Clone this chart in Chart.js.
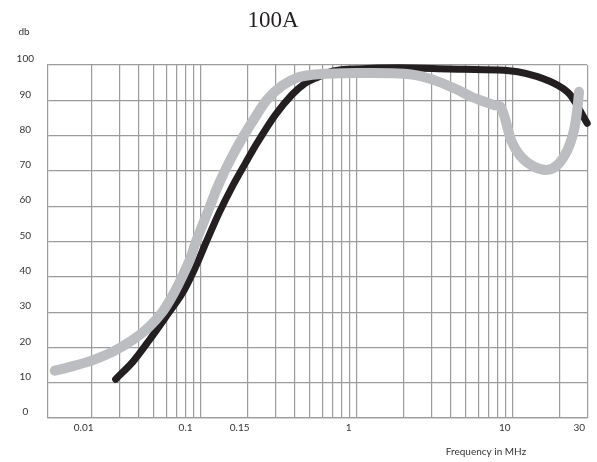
<!DOCTYPE html>
<html lang="en">
<head>
    <meta charset="UTF-8">
    <title>100A</title>
    <script src="https://cdn.jsdelivr.net/npm/chart.js"></script>
    <style>
        html, body { margin: 0; padding: 0; background: #ffffff; }
        #wrap { width: 597px; height: 462px; position: relative; }
    </style>
</head>
<body>
    <div id="wrap">
        <canvas id="chart" width="597" height="462"></canvas>
    </div>

    <script>
        // grey curve (frequency in MHz, level in db)
        var greyFreq = [0.0116, 0.0152, 0.0204, 0.0274, 0.0367, 0.0469, 0.0567, 0.0666, 0.076, 0.0855,
                        0.0933, 0.1034, 0.1146, 0.127, 0.1428, 0.163, 0.1887, 0.2218, 0.2644, 0.3295,
                        0.4228, 0.567, 1.0, 1.85, 2.48, 3.33, 4.46, 5.43, 6.6, 7.64,
                        8.3, 8.9, 9.75, 11.3, 13.7, 16.7, 19.35, 22.4, 24.7, 25.9, 26.6];
        var greyDb   = [13.4, 14.7, 16.4, 18.8, 22.1, 25.9, 30.0, 35.0, 40.0, 45.0,
                        50.0, 55.0, 60.0, 65.0, 70.0, 75.0, 80.0, 85.0, 90.0, 94.0,
                        96.5, 97.4, 97.7, 97.6, 97.0, 95.3, 92.9, 91.0, 89.6, 88.6,
                        88.3, 85.0, 78.8, 74.0, 71.2, 70.3, 71.7, 75.9, 81.6, 87.3, 92.4];

        // black curve
        var blackFreq = [0.0285, 0.0367, 0.0469, 0.0599, 0.0764, 0.0929, 0.1076, 0.1308, 0.159, 0.1935,
                         0.229, 0.300, 0.383, 0.466, 0.54, 0.706, 1.0, 1.85, 3.85, 8.03,
                         10.76, 14.4, 19.35, 23.4, 30];
        var blackDb   = [11.0, 15.9, 22.1, 28.7, 35.4, 42.9, 49.5, 58.0, 65.5, 72.2,
                         77.8, 85.8, 91.5, 94.8, 96.2, 98.3, 98.9, 99.2, 98.9, 98.6,
                         98.1, 96.7, 94.3, 91.5, 83.5];

        // vertical grid lines and the labels printed under the axis
        var gridFreq = [0.02, 0.03, 0.04, 0.05, 0.06, 0.07, 0.08, 0.09,
                        0.1, 0.2, 0.3, 0.4, 0.5, 0.6, 0.7, 0.8, 0.9,
                        1, 2, 3, 4, 5, 6, 7, 8, 9,
                        10, 20, 30];
        var tickFreq = [0.02, 0.09, 0.2, 1, 10, 30];
        var tickLabels = ['0.01', '0.1', '0.15', '1', '10', '30'];

        var gridColor = '#9c9c9c';
        var textColor = '#333333';

        // title, unit and axis caption
        var textPlugin = {
            id: 'extraText',
            afterDraw: function(chart) {
                var ctx = chart.ctx;
                ctx.save();
                ctx.fillStyle = '#231f20';
                ctx.textAlign = 'center';
                ctx.textBaseline = 'middle';
                ctx.font = '23px "Liberation Serif"';
                ctx.fillText('100A', 273, 21);
                ctx.fillStyle = textColor;
                ctx.font = '10px Lato';
                ctx.fillText('db', 24, 32);
                ctx.fillText('Frequency in MHz', 486, 452);
                ctx.restore();
            }
        };

        var ctx = document.getElementById('chart').getContext('2d');
        var chart = new Chart(ctx, {
            type: 'line',
            data: {
                datasets: [{
                    label: 'grey',
                    data: greyFreq.map(function(f, i) { return { x: f, y: greyDb[i] }; }),
                    borderColor: '#bcbdc0',
                    borderWidth: 10,
                    borderCapStyle: 'round',
                    borderJoinStyle: 'round',
                    pointRadius: 0,
                    tension: 0.3,
                    clip: false
                }, {
                    label: 'black',
                    data: blackFreq.map(function(f, i) { return { x: f, y: blackDb[i] }; }),
                    borderColor: '#231f20',
                    borderWidth: 7,
                    borderCapStyle: 'round',
                    borderJoinStyle: 'round',
                    pointRadius: 0,
                    tension: 0.3,
                    clip: false
                }]
            },
            options: {
                responsive: false,
                animation: false,
                layout: { padding: { top: 65, right: 5, left: 0, bottom: 0 } },
                plugins: {
                    legend: { display: false },
                    tooltip: { enabled: false },
                    title: { display: false }
                },
                scales: {
                    x: {
                        type: 'logarithmic',
                        min: 0.0105,
                        max: 30,
                        afterBuildTicks: function(scale) {
                            scale.ticks = gridFreq.map(function(v) { return { value: v }; });
                        },
                        afterFit: function(scale) { scale.height = 44; },
                        grid: { color: gridColor, lineWidth: 1.2, drawTicks: false },
                        border: { color: gridColor, width: 1.2 },
                        ticks: {
                            autoSkip: false,
                            maxRotation: 0,
                            padding: 4,
                            labelOffset: -8,
                            color: textColor,
                            font: { family: 'Lato', size: 10 },
                            callback: function(value) {
                                var i = tickFreq.indexOf(value);
                                return i >= 0 ? tickLabels[i] : '';
                            }
                        }
                    },
                    y: {
                        min: 0,
                        max: 100,
                        afterFit: function(scale) { scale.width = 48; },
                        grid: { color: gridColor, lineWidth: 1.2, drawTicks: false },
                        border: { color: gridColor, width: 1.2 },
                        ticks: {
                            stepSize: 10,
                            padding: 14,
                            labelOffset: -6,
                            crossAlign: 'center',
                            color: textColor,
                            font: { family: 'Lato', size: 10 }
                        }
                    }
                }
            },
            plugins: [textPlugin]
        });
    </script>
</body>
</html>
